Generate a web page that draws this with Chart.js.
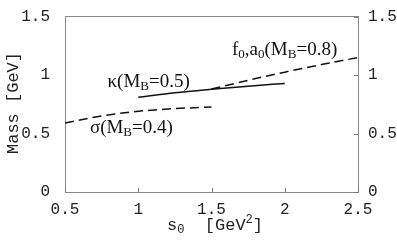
<!DOCTYPE html>
<html>
<head>
<meta charset="utf-8">
<script src="https://cdn.jsdelivr.net/npm/chart.js@4"></script>
<style>
  html, body { margin: 0; padding: 0; background: #fff; }
  #wrap { width: 397px; height: 242px; }
</style>
</head>
<body>
<div id="wrap"><canvas id="chart1"></canvas></div>
<script>
// s0 [GeV^2] vs mass [GeV]
const sigmaS0 = [0.5, 0.75, 1, 1.25, 1.5];
const sigmaMass = [0.59, 0.65, 0.69, 0.713, 0.727];
const kappaS0 = [1, 1.25, 1.5, 1.75, 2];
const kappaMass = [0.81, 0.848, 0.878, 0.905, 0.928];
const f0S0 = [1.5, 1.75, 2, 2.25, 2.5];
const f0Mass = [0.88, 0.955, 1.025, 1.09, 1.15];
const xTicks = [0.5, 1, 1.5, 2, 2.5];
const yTicks = [0, 0.5, 1, 1.5];

const pts = (xs, ys) => xs.map((x, i) => ({ x: x, y: ys[i] }));
const MONO = "'Liberation Mono', 'DejaVu Sans Mono', monospace";
const monoFont = { family: MONO, size: 16 };
const fmt = v => String(v);

// curve labels, anchored in data coordinates
const labels = [
  { x: 0.79, y: 0.9, parts: [['κ(M', 0], ['B', 1], ['=0.5)', 0]] },
  { x: 0.67, y: 0.505, parts: [['σ(M', 0], ['B', 1], ['=0.4)', 0]] },
  { x: 1.64, y: 1.17, parts: [['f', 0], ['0', 1], [',a', 0], ['0', 1], ['(M', 0], ['B', 1], ['=0.8)', 0]] }
];

function drawParts(c, parts, x, y, big, small, fam, shift) {
  parts.forEach(([t, s]) => {
    c.font = (s ? small : big) + 'px ' + fam;
    c.fillText(t, x, y + (s === 1 ? shift : s === 2 ? -big * 0.4 : 0));
    x += c.measureText(t).width;
  });
}

const overlay = {
  id: 'overlay',
  afterDraw(chart) {
    const c = chart.ctx, xs = chart.scales.x, ys = chart.scales.y, a = chart.chartArea;
    c.save();
    c.strokeStyle = '#777';
    c.lineWidth = 1;
    c.beginPath();
    xTicks.forEach(v => {
      const px = Math.round(xs.getPixelForValue(v)) + 0.5;
      c.moveTo(px, a.bottom); c.lineTo(px, a.bottom - 4);
    });
    yTicks.forEach(v => {
      const py = Math.round(ys.getPixelForValue(v)) + 0.5;
      c.moveTo(a.right, py); c.lineTo(a.right - 4, py);
    });
    c.stroke();

    c.fillStyle = '#111';
    c.textBaseline = 'alphabetic';
    labels.forEach(l => {
      drawParts(c, l.parts, xs.getPixelForValue(l.x), ys.getPixelForValue(l.y),
        19, 13, "'Liberation Serif', serif", 3);
    });

    // axis titles
    c.fillStyle = '#222';
    drawParts(c, [['s', 0], ['0', 1], ['  [GeV', 0], ['2', 2], [']', 0]],
      167, 230, 17, 12, MONO, 3);
    c.translate(18, 103);
    c.rotate(-Math.PI / 2);
    c.font = '17px ' + MONO;
    c.textAlign = 'center';
    c.fillText('Mass [GeV]', 0, 0);
    c.restore();
  }
};

const ctx = document.getElementById('chart1').getContext('2d');
const chart1 = new Chart(ctx, {
  type: 'scatter',
  data: {
    datasets: [
      {
        label: 'sigma',
        data: pts(sigmaS0, sigmaMass),
        showLine: true, borderColor: '#111', borderWidth: 1.5,
        borderDash: [9, 5], pointRadius: 0, cubicInterpolationMode: 'monotone'
      },
      {
        label: 'kappa',
        data: pts(kappaS0, kappaMass),
        showLine: true, borderColor: '#111', borderWidth: 1.5,
        pointRadius: 0, cubicInterpolationMode: 'monotone'
      },
      {
        label: 'f0 a0',
        data: pts(f0S0, f0Mass),
        showLine: true, borderColor: '#111', borderWidth: 1.5,
        borderDash: [9, 5], pointRadius: 0, cubicInterpolationMode: 'monotone'
      }
    ]
  },
  options: {
    responsive: true,
    maintainAspectRatio: false,
    animation: false,
    layout: { padding: { top: 11, left: 0, right: 0, bottom: 0 } },
    plugins: { legend: { display: false }, tooltip: { enabled: false } },
    scales: {
      x: {
        type: 'linear', min: 0.5, max: 2.5,
        afterBuildTicks: s => { s.ticks = xTicks.map(v => ({ value: v })); },
        afterFit: s => { s.height = 50; },
        grid: { display: false },
        border: { color: '#888' },
        ticks: { font: monoFont, color: '#222', padding: 0, maxRotation: 0, callback: fmt }
      },
      y: {
        type: 'linear', position: 'left', min: 0, max: 1.5,
        afterBuildTicks: s => { s.ticks = yTicks.map(v => ({ value: v })); },
        afterFit: s => { s.width = 65; },
        grid: { display: false },
        border: { color: '#888' },
        ticks: { font: monoFont, color: '#222', padding: 7, callback: fmt }
      },
      y2: {
        type: 'linear', position: 'right', min: 0, max: 1.5,
        afterBuildTicks: s => { s.ticks = yTicks.map(v => ({ value: v })); },
        afterFit: s => { s.width = 39; },
        grid: { display: false },
        border: { color: '#888' },
        ticks: { font: monoFont, color: '#222', padding: 2, callback: fmt }
      },
      x2: {
        type: 'linear', position: 'top', min: 0.5, max: 2.5,
        afterFit: s => { s.height = 0; },
        grid: { display: false },
        border: { color: '#888' },
        ticks: { display: false }
      }
    }
  },
  plugins: [overlay]
});
</script>
</body>
</html>
